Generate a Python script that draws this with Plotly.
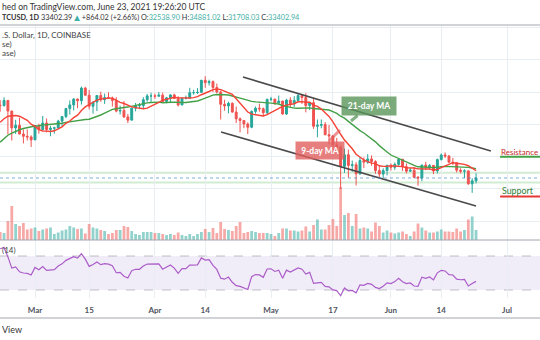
import numpy as np
import pandas as pd
import plotly.graph_objects as go

# ---------------- data ----------------
# closes before the visible window, used only to warm up the indicators
hist_start = "2021-01-01"
hist_close = [29400, 32200, 33000, 32000, 34000, 36800, 39400, 40600, 40200, 38300,
              35500, 33900, 37400, 39200, 36800, 36100, 35800, 36600, 36000, 35500,
              30800, 33000, 32100, 32300, 32300, 32500, 30400, 33400, 34300, 34300,
              33100, 33500, 35500, 37600, 36900, 38300, 39200, 38900, 46400, 46500,
              44800, 48000, 47400, 47200, 48600, 47900, 49100, 52100, 51600, 55900]

start_date = "2021-02-20"
opens = [55900, 55800, 57400, 54100, 48900, 49700, 47000, 46300, 46100,
         45200, 49600, 48400, 50400, 48400, 48800, 48900, 51000, 52400, 54900, 56000, 57800, 57300, 61200, 59000, 55600,
         56900, 58900, 57600, 58300, 58100, 57400, 54100, 54300, 52300, 51300, 55000, 55800, 55800, 57600, 58800,
         58800, 58700, 59000, 57100, 58200, 59100, 58000, 56000, 58100, 58100, 59800, 59800, 59900, 63600, 62900,
         63200, 61400, 60000, 56200, 55700, 56500, 53800, 51700, 51200, 50100, 49100, 54000, 55000, 54800, 53600,
         57700, 57800, 56600, 57200, 53200, 57500, 56400, 57400, 58900, 58300, 55800, 56700, 49400, 49700, 49900,
         46800, 46400, 43600, 42900, 37000, 40600, 37300, 37500, 34700, 38800, 38300, 39300, 38500, 35700, 34600, 35700,
         37300, 36700, 37600, 39200, 36900, 35500, 35800, 33600, 33400, 37400, 36700, 37300, 35600, 39100, 40500,
         40200, 38300, 38100, 35800, 35500, 35600, 31600, 32539]
highs = [57500, 58350, 57500, 54200, 51400, 52100, 48400, 48400, 46600,
         49800, 50200, 52600, 51800, 49500, 49200, 51400, 52400, 54900, 57400, 58100, 58000, 61700, 61600, 60600,
         56900, 58900, 60100, 59500, 59900, 58600, 58400, 55800, 57200, 53200, 55100, 56600, 56600, 58400, 59400, 59800,
         59500, 60000, 59800, 58500, 59300, 59500, 58700, 58200, 58900, 61300, 60700, 61200, 63800, 64900, 63800,
         63600, 62600, 60400, 57600, 57000, 56800, 55500, 52100, 51200, 50600, 54300, 55500, 56400, 55200, 58000,
         58500, 57900, 58900, 57200, 57900, 58400, 58700, 59500, 59200, 59600, 56900, 58000, 51500, 51500, 50700,
         49800, 46600, 45800, 43500, 42500, 42200, 38800, 38300, 39900, 39800, 40800, 40400, 38900, 37300, 36400, 37500,
         37900, 38200, 39500, 39300, 37900, 36500, 36800, 34000, 37500, 38400, 37700, 37400, 39400, 41000, 41300,
         40500, 39600, 38200, 36400, 36100, 35700, 33300, 34881]
lows = [53900, 55500, 46900, 45000, 47000, 46900, 44100, 45000, 43000,
        45100, 47100, 48100, 47500, 46300, 47100, 48900, 49300, 51900, 53000, 54300, 55000, 56100, 59000, 54600,
        53300, 54100, 57000, 56300, 57900, 55500, 53700, 53000, 52000, 50400, 51300, 54000, 54700, 54900, 57000, 56900,
        57900, 58500, 56900, 56500, 56800, 57800, 55500, 55900, 57700, 58000, 59200, 59400, 59900, 61300, 62000,
        60000, 59600, 51500, 54200, 53400, 53600, 50400, 47500, 48800, 47000, 48800, 53300, 53900, 52400, 53000,
        57100, 56000, 56500, 53000, 52900, 55300, 55300, 56900, 56300, 53700, 54400, 48600, 46000, 48800, 46600,
        43800, 42000, 42300, 30000, 35000, 33500, 35300, 31100, 34400, 36500, 37800, 37200, 34700, 33600, 33400, 34200,
        35700, 35900, 37200, 35600, 34800, 35300, 33400, 31000, 32400, 35800, 35900, 34600, 34800, 38800, 39600,
        38100, 37400, 35100, 34800, 33400, 31300, 28800, 31708]
closes = [55800, 57400, 54100, 48900, 49700, 47000, 46300, 46100, 45200,
          49600, 48400, 50400, 48400, 48800, 48900, 51000, 52400, 54900, 56000, 57800, 57300, 61200, 59000, 55600,
          56900, 58900, 57600, 58300, 58100, 57400, 54100, 54300, 52300, 51300, 55000, 55800, 55800, 57600, 58800, 58800,
          58700, 59000, 57100, 58200, 59100, 58000, 56000, 58100, 58100, 59800, 59800, 59900, 63600, 62900, 63200,
          61400, 60000, 56200, 55700, 56500, 53800, 51700, 51200, 50100, 49100, 54000, 55000, 54800, 53600, 57700,
          57800, 56600, 57200, 53200, 57500, 56400, 57400, 58900, 58300, 55800, 56700, 49400, 49700, 49900, 46800,
          46400, 43600, 42900, 37000, 40600, 37300, 37500, 34700, 38800, 38300, 39300, 38500, 35700, 34600, 35700, 37300,
          36700, 37600, 39200, 36900, 35500, 35800, 33600, 33400, 37400, 36700, 37300, 35600, 39100, 40500, 40200,
          38300, 38100, 35800, 35500, 35600, 31600, 32539, 33403]
volumes_k = [16, 14, 38, 68, 32, 28, 34, 21, 23,
             25, 18, 21, 23, 25, 12, 15, 19, 21, 28, 25, 22, 23, 13, 32, 25, 23, 20, 18, 12, 14, 20, 20, 28, 26, 18, 12, 10, 16, 16, 16,
             14, 14, 12, 10, 12, 10, 15, 10, 8, 12, 8, 12, 16, 22, 16, 24, 14, 36, 22, 20, 18, 28, 36, 14, 16, 18, 16, 14, 14, 14,
             12, 8, 14, 23, 23, 19, 19, 17, 19, 27, 17, 30, 41, 21, 21, 30, 42, 28, 106, 50, 54, 28, 52, 23, 25, 23, 17, 35, 28, 15, 19,
             15, 13, 15, 17, 12, 8, 17, 33, 25, 19, 15, 15, 17, 21, 17, 17, 16, 23, 17, 20, 41, 47, 20]

tick_dates = ["2021-03-01", "2021-03-15", "2021-04-01", "2021-04-14", "2021-05-01",
              "2021-05-17", "2021-06-01", "2021-06-14", "2021-07-01"]
tick_labels = ["Mar", "15", "Apr", "14", "May", "17", "Jun", "14", "Jul"]

# drawings on the chart
channel_upper_x = ["2021-04-23 18:00", "2021-06-26 20:00"]
channel_upper_y = [64640, 41750]
channel_lower_x = ["2021-04-18 02:00", "2021-06-23 00:00"]
channel_lower_y = [47630, 24740]
zone_levels = [35000, 32000]
last_price = 33402.94
resistance_x = ["2021-06-29 05:00", "2021-07-12"]
resistance_y = [40000, 40000]
support_x = ["2021-06-29 05:00", "2021-07-12"]
support_y = [27700, 27700]

# ---------------- indicators ----------------
dates = pd.date_range(start_date, periods=len(closes), freq="D")
hist_dates = pd.date_range(hist_start, periods=len(hist_close), freq="D")
allc = pd.Series(hist_close + closes, index=hist_dates.append(dates), dtype=float)
ma9 = allc.rolling(9).mean()
ma21 = allc.rolling(21).mean()


def rma(vals, n):
    out = np.full(len(vals), np.nan)
    out[n] = np.mean(vals[1:n + 1])
    for i in range(n + 1, len(vals)):
        out[i] = (out[i - 1] * (n - 1) + vals[i]) / n
    return out


d = allc.diff().values
up = np.where(d > 0, d, 0.0)
dn = np.where(d < 0, -d, 0.0)
rsi = pd.Series(100 - 100 / (1 + rma(up, 14) / rma(dn, 14)), index=allc.index)

ma9v = ma9.loc[dates]
ma21v = ma21.loc[dates]
rsiv = rsi.loc[dates]

# ---------------- layout helpers ----------------
W, H = 540, 340
def py(p):
    return 1 - p / H
def px(p):
    return p / W

UP, DN = "#26a69a", "#ef5350"
FONT = "Lato, 'DejaVu Sans', sans-serif"
GRID = "#e9eef3"

fig = go.Figure()

vol_colors = ["rgba(38,166,154,0.5)" if c >= o else "rgba(239,83,80,0.5)"
              for o, c in zip(opens, closes)]
fig.add_trace(go.Bar(x=dates, y=volumes_k, yaxis="y2", width=0.72 * 86400000,
                     marker=dict(color=vol_colors, line=dict(width=0))))
fig.add_trace(go.Candlestick(x=dates, open=opens, high=highs, low=lows, close=closes,
                             increasing=dict(line=dict(color=UP, width=1), fillcolor=UP),
                             decreasing=dict(line=dict(color=DN, width=1), fillcolor=DN),
                             whiskerwidth=0))
fig.add_trace(go.Scatter(x=dates, y=ma21v, mode="lines", line=dict(color="#43a047", width=1.4)))
fig.add_trace(go.Scatter(x=dates, y=ma9v, mode="lines", line=dict(color="#f44336", width=1.4)))
fig.add_trace(go.Scatter(x=channel_upper_x, y=channel_upper_y, mode="lines",
                         line=dict(color="#4a4a4a", width=1.6)))
fig.add_trace(go.Scatter(x=channel_lower_x, y=channel_lower_y, mode="lines",
                         line=dict(color="#4a4a4a", width=1.6)))
fig.add_trace(go.Scatter(x=resistance_x, y=resistance_y, mode="lines",
                         line=dict(color="#43a047", width=2)))
fig.add_trace(go.Scatter(x=support_x, y=support_y, mode="lines",
                         line=dict(color="#e53935", width=2)))
fig.add_trace(go.Scatter(x=dates, y=rsiv, yaxis="y3", mode="lines",
                         line=dict(color="#ab5cc9", width=1.2)))

shapes = []
for lv in zone_levels:
    shapes.append(dict(type="line", xref="paper", x0=0, x1=1, yref="y", y0=lv, y1=lv,
                       line=dict(color="rgba(76,175,80,0.25)", width=2), layer="below"))
shapes.append(dict(type="line", xref="paper", x0=0, x1=1, yref="y", y0=last_price, y1=last_price,
                   line=dict(color="rgba(70,140,200,0.7)", width=1, dash="dot")))
# RSI band
shapes.append(dict(type="rect", xref="paper", x0=0, x1=1, yref="y3", y0=30, y1=70,
                   fillcolor="rgba(126,87,194,0.11)", line=dict(width=0), layer="below"))
for lv in (70, 30):
    shapes.append(dict(type="line", xref="paper", x0=0, x1=1, yref="y3", y0=lv, y1=lv,
                       line=dict(color="rgba(120,123,134,0.45)", width=1, dash="dash"), layer="below"))
# separators
for yy, col in ((25, "#a3a6af"), (240, "#a3a6af"), (318, "#a3a6af")):
    shapes.append(dict(type="line", xref="paper", yref="paper", x0=0, x1=1, y0=py(yy), y1=py(yy),
                       line=dict(color=col, width=1)))

TEAL = "#3fb0a5"
ann = []
ann.append(dict(text="hed on TradingView.com, June 23, 2021 19:26:20 UTC", x=0, y=py(7),
                xanchor="left", yanchor="middle", font=dict(size=8.5, color="#333")))
ann.append(dict(text=("<b>TCUSD, 1D</b> 33402.39 <span style='color:%s'>▲</span> +864.02 (+2.66%%) "
                      "O:<span style='color:%s'>32538.90</span> H:<span style='color:%s'>34881.02</span> "
                      "L:<span style='color:%s'>31708.03</span> C:<span style='color:%s'>33402.94</span>")
                % (TEAL, TEAL, TEAL, TEAL, TEAL),
                x=0, y=py(17), xanchor="left", yanchor="middle",
                font=dict(size=7.3, color="#333")))
ann.append(dict(text=".S. Dollar, 1D, COINBASE", x=0, y=py(35), xanchor="left", yanchor="middle",
                font=dict(size=8, color="#444")))
ann.append(dict(text="se)", x=0, y=py(44), xanchor="left", yanchor="middle", font=dict(size=8, color="#444")))
ann.append(dict(text="ase)", x=0, y=py(53), xanchor="left", yanchor="middle", font=dict(size=8, color="#444")))
ann.append(dict(text="(14)", x=0, y=py(250), xanchor="left", yanchor="middle", font=dict(size=8, color="#444")))
ann.append(dict(text="View", x=0, y=py(329), xanchor="left", yanchor="middle", font=dict(size=9, color="#333")))
ann.append(dict(text="Resistance", x=px(499), y=py(151.5), xanchor="left", yanchor="middle",
                font=dict(size=8, color="#c62828")))
ann.append(dict(text="Support", x=px(500), y=py(190.5), xanchor="left", yanchor="middle",
                font=dict(size=8.8, color="#2e7d32")))
# callouts
ann.append(dict(text="<b>21-day MA</b>", x=px(351), y=py(121), showarrow=True, arrowhead=0,
                arrowwidth=3, arrowcolor="rgba(90,150,90,0.75)", ax=18, ay=-15,
                bgcolor="rgba(90,150,90,0.8)", borderpad=2, width=50, height=14,
                font=dict(size=8.5, color="white")))
ann.append(dict(text="<b>9-day MA</b>", x=px(340), y=py(130), showarrow=True, arrowhead=0,
                arrowwidth=3, arrowcolor="rgba(225,95,95,0.65)", ax=-20, ay=20,
                bgcolor="rgba(225,95,95,0.8)", borderpad=2, width=44, height=13,
                font=dict(size=8.5, color="white")))
for a in ann:
    a.setdefault("xref", "paper")
    a.setdefault("yref", "paper")
    a.setdefault("showarrow", False)
    a["font"].setdefault("family", FONT)

fig.update_layout(
    width=W, height=H, margin=dict(l=0, r=0, t=0, b=0),
    paper_bgcolor="white", plot_bgcolor="white", showlegend=False, hovermode=False,
    shapes=shapes, annotations=ann, font=dict(family=FONT),
    xaxis=dict(type="date", range=["2021-02-19 22:54", "2021-07-09 12:43"], domain=[0, 1],
               anchor="y3", tickvals=tick_dates, ticktext=tick_labels, showgrid=True,
               gridcolor=GRID, gridwidth=1, zeroline=False, showline=False, ticks="",
               ticklabelstandoff=6,
               tickfont=dict(size=8, color="#50535e", family=FONT, weight="bold"),
               rangeslider=dict(visible=False), fixedrange=True),
    yaxis=dict(domain=[py(240), py(25)], range=[14224, 80723], tickvals=[20000, 30000, 40000, 50000, 60000, 70000, 80000],
               showgrid=True, gridcolor=GRID, showticklabels=False, zeroline=False, ticks="", fixedrange=True),
    yaxis2=dict(overlaying="y", range=[0, 430], showgrid=False, showticklabels=False, zeroline=False,
                ticks="", fixedrange=True),
    yaxis3=dict(domain=[py(298), py(240)], range=[20.6, 88.8], showgrid=False, showticklabels=False,
                zeroline=False, ticks="", fixedrange=True),
)

fig.write_html("out.html")
